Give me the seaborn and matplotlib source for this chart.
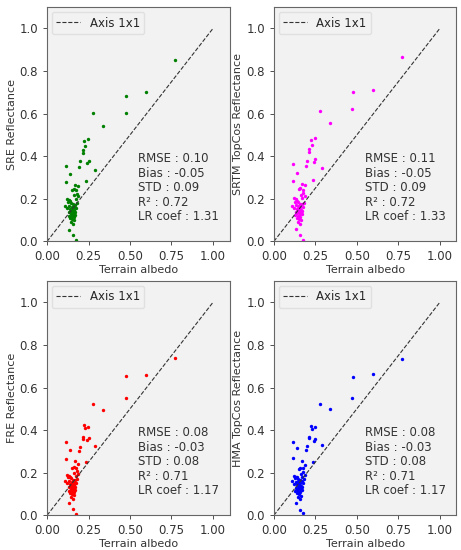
import numpy as np
import pandas as pd
import matplotlib
matplotlib.use("Agg")
import matplotlib.pyplot as plt
import seaborn as sns

# Terrain albedo (same reference for the four products)
albedo = [0.770, 0.596, 0.478, 0.473, 0.278, 0.337, 0.249, 0.224, 0.231, 0.214,
          0.214, 0.198, 0.251, 0.241, 0.194, 0.292, 0.116, 0.139, 0.233, 0.116,
          0.186, 0.168, 0.160, 0.150, 0.175, 0.178, 0.165, 0.185, 0.172, 0.122,
          0.132, 0.140, 0.128, 0.145, 0.180, 0.155, 0.168, 0.135, 0.110, 0.148,
          0.160, 0.175, 0.120, 0.140, 0.152, 0.165, 0.145, 0.158, 0.170, 0.135,
          0.150, 0.162, 0.142, 0.155, 0.168, 0.130, 0.148, 0.160, 0.138, 0.152,
          0.165, 0.145, 0.155, 0.133, 0.159, 0.173]

sre = [0.854, 0.700, 0.684, 0.604, 0.604, 0.542, 0.479, 0.470, 0.447, 0.430,
       0.413, 0.377, 0.377, 0.369, 0.350, 0.336, 0.355, 0.317, 0.286, 0.279,
       0.262, 0.265, 0.248, 0.243, 0.240, 0.225, 0.218, 0.212, 0.200, 0.200,
       0.195, 0.190, 0.185, 0.182, 0.180, 0.175, 0.172, 0.168, 0.165, 0.163,
       0.160, 0.158, 0.155, 0.152, 0.150, 0.148, 0.145, 0.143, 0.140, 0.138,
       0.135, 0.132, 0.130, 0.128, 0.125, 0.120, 0.118, 0.115, 0.110, 0.105,
       0.100, 0.090, 0.080, 0.055, 0.031, 0.008]

srtm = [0.867, 0.710, 0.700, 0.620, 0.612, 0.555, 0.487, 0.475, 0.455, 0.435,
        0.420, 0.380, 0.385, 0.375, 0.355, 0.345, 0.362, 0.322, 0.290, 0.283,
        0.265, 0.270, 0.252, 0.245, 0.242, 0.228, 0.220, 0.215, 0.202, 0.202,
        0.197, 0.192, 0.187, 0.184, 0.182, 0.177, 0.174, 0.170, 0.167, 0.165,
        0.162, 0.160, 0.157, 0.154, 0.152, 0.150, 0.147, 0.145, 0.142, 0.140,
        0.137, 0.134, 0.132, 0.130, 0.127, 0.122, 0.120, 0.117, 0.112, 0.107,
        0.102, 0.092, 0.082, 0.057, 0.032, 0.009]

fre = [0.740, 0.660, 0.655, 0.550, 0.525, 0.495, 0.415, 0.425, 0.410, 0.370,
       0.360, 0.320, 0.365, 0.355, 0.300, 0.325, 0.345, 0.305, 0.250, 0.265,
       0.240, 0.255, 0.225, 0.222, 0.222, 0.210, 0.200, 0.195, 0.185, 0.190,
       0.185, 0.180, 0.178, 0.175, 0.172, 0.168, 0.165, 0.160, 0.160, 0.158,
       0.155, 0.152, 0.150, 0.148, 0.145, 0.143, 0.140, 0.138, 0.135, 0.133,
       0.130, 0.128, 0.125, 0.123, 0.120, 0.115, 0.113, 0.110, 0.105, 0.100,
       0.095, 0.088, 0.078, 0.058, 0.028, 0.008]

hma = [0.735, 0.665, 0.650, 0.550, 0.525, 0.500, 0.415, 0.420, 0.405, 0.365,
       0.370, 0.325, 0.360, 0.350, 0.305, 0.330, 0.345, 0.315, 0.250, 0.270,
       0.235, 0.255, 0.220, 0.218, 0.220, 0.205, 0.195, 0.190, 0.180, 0.185,
       0.180, 0.178, 0.175, 0.172, 0.170, 0.165, 0.162, 0.158, 0.160, 0.155,
       0.152, 0.150, 0.148, 0.145, 0.143, 0.140, 0.138, 0.135, 0.133, 0.130,
       0.128, 0.125, 0.123, 0.122, 0.120, 0.115, 0.112, 0.110, 0.105, 0.100,
       0.093, 0.087, 0.078, 0.060, 0.025, 0.010]

panel_labels = ["SRE Reflectance", "SRTM TopCos Reflectance",
                "FRE Reflectance", "HMA TopCos Reflectance"]
panel_colors = ["green", "magenta", "red", "blue"]
panel_values = [sre, srtm, fre, hma]
rmse = [0.10, 0.11, 0.08, 0.08]
bias = [-0.05, -0.05, -0.03, -0.03]
std = [0.09, 0.09, 0.08, 0.08]
r2 = [0.72, 0.72, 0.71, 0.71]
lr_coef = [1.31, 1.33, 1.17, 1.17]

sns.set_style("ticks", {"axes.facecolor": "#f2f2f2", "axes.edgecolor": "#666666"})
plt.rcParams["font.family"] = ["DejaVu Sans"]
plt.rcParams["font.size"] = 8

fig = plt.figure(figsize=(4.61, 5.5), dpi=100)
positions = [[0.102, 0.561, 0.396, 0.426], [0.594, 0.561, 0.396, 0.426],
             [0.102, 0.063, 0.396, 0.426], [0.594, 0.063, 0.396, 0.426]]

for i in range(4):
    ax = fig.add_axes(positions[i])
    df = pd.DataFrame({"albedo": albedo, "refl": panel_values[i]})
    ax.plot([0, 1], [0, 1], ls="--", color="#333333", lw=0.8, label="Axis 1x1")
    sns.scatterplot(data=df, x="albedo", y="refl", color=panel_colors[i],
                    s=6, linewidth=0, ax=ax)
    ax.set_xlim(0, 1.1)
    ax.set_ylim(0, 1.1)
    ax.set_xticks([0, 0.25, 0.5, 0.75, 1.0])
    ax.set_yticks([0, 0.2, 0.4, 0.6, 0.8, 1.0])
    ax.set_xticklabels(["0.00", "0.25", "0.50", "0.75", "1.00"])
    ax.set_yticklabels(["0.0", "0.2", "0.4", "0.6", "0.8", "1.0"])
    ax.tick_params(labelsize=8.5, colors="#333333", length=3, width=0.6)
    ax.set_xlabel("Terrain albedo", fontsize=8, color="#333333", labelpad=1)
    ax.set_ylabel(panel_labels[i], fontsize=8, color="#333333", labelpad=2)
    for sp in ax.spines.values():
        sp.set_linewidth(0.8)
    stats = (f"RMSE : {rmse[i]:.2f}\nBias : {bias[i]:.2f}\nSTD : {std[i]:.2f}\n"
             f"R² : {r2[i]:.2f}\nLR coef : {lr_coef[i]:.2f}")
    ax.text(0.55, 0.085, stats, fontsize=8.5, color="#333333", va="bottom",
            linespacing=1.15)
    ax.legend(loc="upper left", fontsize=8.5, handlelength=2.0,
              borderaxespad=0.4, framealpha=1, edgecolor="#e0e0e0")

fig.savefig("out.png", dpi=100, facecolor="white")
